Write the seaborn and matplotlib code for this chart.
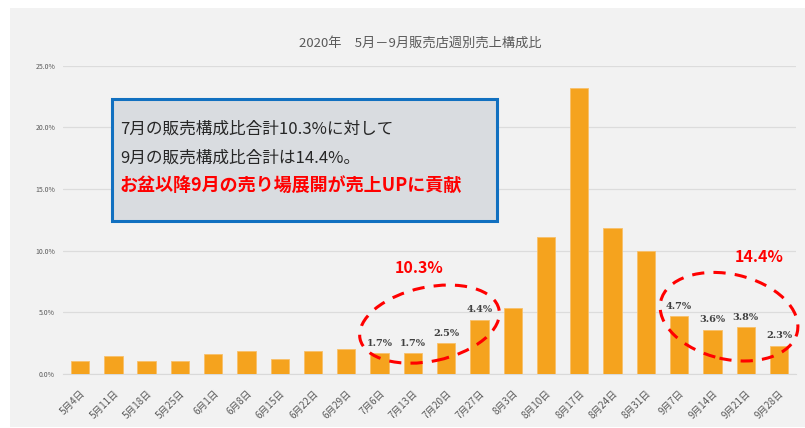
import numpy as np
import pandas as pd
import seaborn as sns
import matplotlib.pyplot as plt
from matplotlib.patches import Ellipse, Rectangle
from matplotlib import transforms

weeks = ['5月4日', '5月11日', '5月18日', '5月25日', '6月1日', '6月8日', '6月15日',
         '6月22日', '6月29日', '7月6日', '7月13日', '7月20日', '7月27日', '8月3日',
         '8月10日', '8月17日', '8月24日', '8月31日', '9月7日', '9月14日', '9月21日', '9月28日']
share = [1.05, 1.5, 1.05, 1.05, 1.6, 1.9, 1.2, 1.9, 2.0, 1.7, 1.7, 2.5, 4.4, 5.35,
         11.1, 23.2, 11.85, 10.0, 4.7, 3.6, 3.8, 2.3]
july_idx = [9, 10, 11, 12]
sept_idx = [18, 19, 20, 21]
july_total = '10.3%'
sept_total = '14.4%'
title = '2020年　5月－9月販売店週別売上構成比'
box_lines = ['7月の販売構成比合計10.3%に対して', '9月の販売構成比合計は14.4%。']
box_red = 'お盆以降9月の売り場展開が売上UPに貢献'

bg = '#f2f2f2'
sns.set_style('white')
plt.rcParams['font.family'] = ['Noto Sans CJK JP', 'DejaVu Sans']

df = pd.DataFrame({'week': weeks, 'share': share})

fig = plt.figure(figsize=(8.05, 4.28), dpi=100, facecolor='white')
fig.patches.append(Rectangle((10 / 805, 1 / 428), 1, (428 - 9) / 428,
                             transform=fig.transFigure, facecolor=bg, edgecolor='none', zorder=-10))
ax = fig.add_axes([0.0788, 0.126, 0.9095, 0.7205])
ax.set_facecolor(bg)

sns.barplot(data=df, x='week', y='share', color='#f5a31e', width=0.55,
            saturation=1, ax=ax, zorder=3, edgecolor='#f8c06a', linewidth=0.6)

ax.set_ylim(0, 25)
ax.set_yticks(np.arange(0, 26, 5))
ax.set_yticklabels([f'{v:.1f}%' for v in np.arange(0, 26, 5)], fontsize=5, color='#595959')
ax.grid(axis='y', color='#dcdcdc', linewidth=0.9, zorder=0)
ax.set_axisbelow(True)
for s in ['top', 'right', 'left']:
    ax.spines[s].set_visible(False)
ax.spines['bottom'].set_color('#d9d9d9')
ax.tick_params(axis='both', length=0)
ax.tick_params(axis='y', pad=6)
ax.tick_params(axis='x', pad=10)
ax.set_xlabel('')
ax.set_ylabel('')
plt.setp(ax.get_xticklabels(), rotation=45, ha='right', rotation_mode='anchor',
         fontsize=7, color='#595959')

# labels only on July and September bars
bars = ax.containers[0]
for i in july_idx + sept_idx:
    b = bars[i]
    ax.annotate(f'{share[i]:.1f}%', (b.get_x() + b.get_width() / 2, b.get_height()),
                xytext=(0, 4), textcoords='offset points', ha='center', va='bottom',
                fontsize=7, fontweight='bold', color='#404040', family='DejaVu Serif', zorder=5)

fig.text(0.522, 0.9, title, ha='center', va='center', fontsize=9.5, color='#595959')

# dashed ellipses around July / September
def ring(cx, cy, w, h, ang):
    tr = fig.dpi_scale_trans + transforms.ScaledTranslation(cx, cy, ax.transData)
    e = Ellipse((0, 0), w, h, angle=ang, transform=tr, fill=False, clip_on=False,
                edgecolor='#ff0000', linestyle=(0, (4, 3)), linewidth=2.2, zorder=6)
    ax.add_patch(e)

ring(np.mean(july_idx), 4.05, 1.42, 0.74, 12)
ring(np.mean(sept_idx), 4.65, 1.40, 0.85, -13)

ax.text(10.2, 8.6, july_total, ha='center', va='center', fontsize=11.5,
        fontweight='bold', color='#ff0000', zorder=6)
ax.text(20.4, 9.5, sept_total, ha='center', va='center', fontsize=11.5,
        fontweight='bold', color='#ff0000', zorder=6)

# comment box
ax.add_patch(Rectangle((0.066, 0.496), 0.526, 0.396, transform=ax.transAxes,
                       facecolor='#d9dce0', edgecolor='#1170c0', linewidth=2.2, zorder=7))
ax.text(0.077, 0.795, box_lines[0], transform=ax.transAxes, va='center', ha='left',
        fontsize=12, color='#262626', zorder=8)
ax.text(0.077, 0.701, box_lines[1], transform=ax.transAxes, va='center', ha='left',
        fontsize=12, color='#262626', zorder=8)
ax.text(0.077, 0.613, box_red, transform=ax.transAxes, va='center', ha='left',
        fontsize=13, fontweight='bold', color='#ff0000', zorder=8)

fig.savefig('out.png', dpi=100, facecolor='white')
